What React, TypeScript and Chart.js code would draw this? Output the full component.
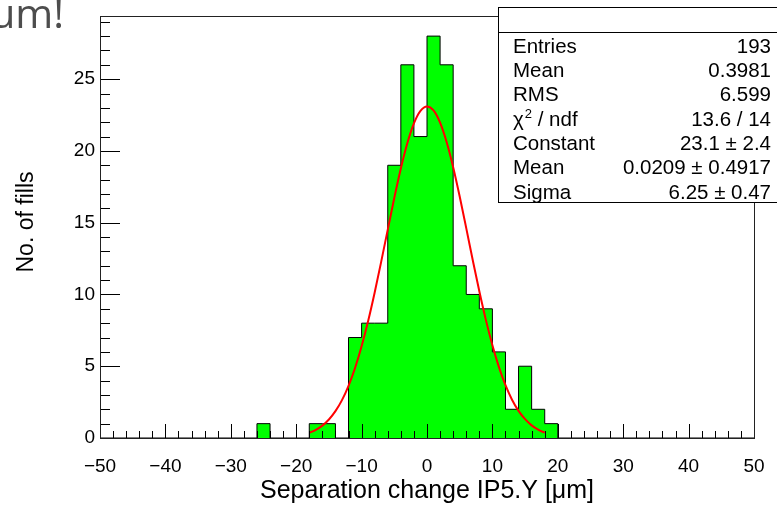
import React, { useEffect, useRef } from 'react';
import { Chart, registerables } from 'chart.js';

Chart.register(...registerables);

// Histogram: lower bin edges (2 µm bins) and counts
const binLowEdges = [
  -50, -48, -46, -44, -42, -40, -38, -36, -34, -32,
  -30, -28, -26, -24, -22, -20, -18, -16, -14, -12,
  -10, -8, -6, -4, -2, 0, 2, 4, 6, 8,
  10, 12, 14, 16, 18, 20, 22, 24, 26, 28,
  30, 32, 34, 36, 38, 40, 42, 44, 46, 48,
];
const binCounts = [
  0, 0, 0, 0, 0, 0, 0, 0, 0, 0,
  0, 0, 1, 0, 0, 0, 1, 1, 0, 7,
  8, 8, 19, 26, 21, 28, 26, 12, 10, 9,
  6, 2, 5, 2, 1, 0, 0, 0, 0, 0,
  0, 0, 0, 0, 0, 0, 0, 0, 0, 0,
];
const histUpperEdge = 50;

// Gaussian fit curve
const fitX = [
  -18, -17, -16, -15, -14, -13, -12, -11, -10, -9, -8, -7, -6, -5, -4, -3, -2, -1, 0,
  1, 2, 3, 4, 5, 6, 7, 8, 9, 10, 11, 12, 13, 14, 15, 16, 17, 18,
];
const fitY = [
  0.36, 0.57, 0.86, 1.29, 1.87, 2.64, 3.64, 4.88, 6.39, 8.15, 10.14, 12.29, 14.52, 16.73, 18.78, 20.55, 21.92, 22.79, 23.1,
  22.82, 21.97, 20.62, 18.86, 16.82, 14.62, 12.38, 10.22, 8.23, 6.46, 4.94, 3.68, 2.67, 1.89, 1.31, 0.88, 0.58, 0.37,
];

// Axes
const xMin = -50;
const xMax = 50;
const xMajorStep = 10;
const xMinorStep = 2;
const yMin = 0;
const yMax = 29.4;
const yMajorStep = 5;
const yMinorStep = 1;

const xTitle = 'Separation change IP5.Y [\u03bcm]';
const yTitle = 'No. of fills';

// Statistics box
const statLabels = ['Entries', 'Mean', 'RMS', 'CHI2', 'Constant', 'Mean', 'Sigma'];
const statValues = ['193', '0.3981', '6.599', '13.6 / 14', '23.1 \u00b1 2.4', '0.0209 \u00b1 0.4917', '6.25 \u00b1 0.47'];

const FONT = '"Liberation Sans", Arial, Helvetica, sans-serif';
const STAT_FONT = '20.5px ' + FONT;

const rootPlugin = {
  id: 'rootStyle',
  afterDatasetsDraw(chart: any) {
    const { ctx, chartArea: a, scales } = chart;
    const x = scales.x;
    const y = scales.y;
    ctx.save();
    ctx.strokeStyle = '#000';
    ctx.lineWidth = 1;
    ctx.beginPath();
    for (let v = xMin; v <= xMax + 1e-9; v += xMinorStep) {
      const px = Math.round(x.getPixelForValue(v)) + 0.5;
      const len = Math.abs(v % xMajorStep) < 1e-9 ? 14 : 7;
      ctx.moveTo(px, a.bottom);
      ctx.lineTo(px, a.bottom - len);
    }
    for (let v = yMin; v <= yMax; v += yMinorStep) {
      const py = Math.round(y.getPixelForValue(v)) + 0.5;
      const len = v % yMajorStep === 0 ? 20 : 10;
      ctx.moveTo(a.left, py);
      ctx.lineTo(a.left + len, py);
    }
    ctx.stroke();
    ctx.strokeStyle = '#222';
    ctx.strokeRect(Math.round(a.left) + 0.5, Math.round(a.top) + 0.5, Math.round(a.right - a.left), Math.round(a.bottom - a.top));
    ctx.restore();
  },
  afterDraw(chart: any) {
    const { ctx, chartArea: a, width } = chart;
    ctx.save();
    // axis titles
    ctx.fillStyle = '#000';
    ctx.font = '25px ' + FONT;
    ctx.textAlign = 'center';
    ctx.textBaseline = 'alphabetic';
    ctx.fillText(xTitle, (a.left + a.right) / 2, 498);
    ctx.save();
    ctx.translate(33, 222);
    ctx.rotate(-Math.PI / 2);
    ctx.font = '23px ' + FONT;
    ctx.fillText(yTitle, 0, 0);
    ctx.restore();

    // stats box
    const bx = 498.5;
    const by = 7.5;
    const bw = width - bx + 5;
    const bh = 195;
    ctx.fillStyle = '#fff';
    ctx.fillRect(bx, by, bw, bh);
    ctx.strokeStyle = '#000';
    ctx.lineWidth = 1;
    ctx.strokeRect(bx, by, bw, bh);
    ctx.beginPath();
    ctx.moveTo(bx, 32.5);
    ctx.lineTo(bx + bw, 32.5);
    ctx.stroke();
    ctx.fillStyle = '#000';
    ctx.textBaseline = 'alphabetic';
    const left = 513;
    const right = 771;
    for (let i = 0; i < statLabels.length; i++) {
      const base = 52.5 + i * 24.35;
      ctx.textAlign = 'left';
      if (statLabels[i] === 'CHI2') {
        ctx.font = STAT_FONT;
        ctx.fillText('\u03c7', left, base);
        const w1 = ctx.measureText('\u03c7').width;
        ctx.font = '13px ' + FONT;
        ctx.fillText('2', left + w1 + 1, base - 8);
        const w2 = ctx.measureText('2').width;
        ctx.font = STAT_FONT;
        ctx.fillText(' / ndf', left + w1 + 1 + w2, base);
      } else {
        ctx.font = STAT_FONT;
        ctx.fillText(statLabels[i], left, base);
      }
      ctx.textAlign = 'right';
      ctx.font = STAT_FONT;
      ctx.fillText(statValues[i], right, base);
    }
    ctx.restore();
  },
};

export default function App() {
  const ref = useRef<HTMLCanvasElement | null>(null);
  useEffect(() => {
    if (!ref.current) return;
    Chart.defaults.font.family = FONT;
    const histPoints = binLowEdges.map((e, i) => ({ x: e, y: binCounts[i] }));
    histPoints.push({ x: histUpperEdge, y: binCounts[binCounts.length - 1] });
    const fitPoints = fitX.map((v, i) => ({ x: v, y: fitY[i] }));
    const chart = new Chart(ref.current, {
      type: 'line',
      data: {
        datasets: [
          {
            label: 'fit',
            data: fitPoints,
            borderColor: '#ff0000',
            borderWidth: 2,
            pointRadius: 0,
            fill: false,
            cubicInterpolationMode: 'monotone',
          },
          {
            label: 'hist',
            data: histPoints,
            borderColor: '#000',
            borderWidth: 1,
            backgroundColor: '#00ff00',
            pointRadius: 0,
            stepped: 'before',
            fill: 'origin',
          },
        ],
      },
      options: {
        animation: false,
        responsive: false,
        devicePixelRatio: 1,
        layout: { padding: { left: 0, right: 23, top: 16, bottom: 0 } },
        plugins: { legend: { display: false }, tooltip: { enabled: false } },
        scales: {
          x: {
            type: 'linear',
            min: xMin,
            max: xMax,
            grid: { display: false, drawTicks: false },
            border: { display: false },
            afterFit: (s: any) => {
              s.height = 67;
              s.paddingLeft = 0;
              s.paddingRight = 0;
            },
            ticks: {
              stepSize: xMajorStep,
              includeBounds: false,
              padding: 17,
              color: '#000',
              font: { size: 19, family: FONT },
              maxRotation: 0,
              callback: (v: any) => (Number(v) < 0 ? '\u2212' + Math.abs(Number(v)) : String(v)),
            },
          },
          y: {
            type: 'linear',
            min: yMin,
            max: yMax,
            grid: { display: false, drawTicks: false },
            border: { display: false },
            afterFit: (s: any) => {
              s.width = 100;
              s.paddingTop = 0;
              s.paddingBottom = 0;
            },
            ticks: {
              stepSize: yMajorStep,
              includeBounds: false,
              padding: 5,
              color: '#000',
              font: { size: 19, family: FONT },
              callback: (v: any) => (Number(v) % yMajorStep === 0 ? String(v) : ''),
            },
          },
        },
      },
      plugins: [rootPlugin],
    } as any);
    return () => chart.destroy();
  }, []);

  return (
    <div style={{ position: 'fixed', left: 0, top: 0, width: 777, height: 505, background: '#fff', overflow: 'hidden' }}>
      <canvas ref={ref} width={777} height={505} style={{ display: 'block', width: 777, height: 505 }} />
      <div
        style={{
          position: 'absolute',
          left: -10,
          top: -8.5,
          fontFamily: '"Open Sans", sans-serif',
          fontSize: 41,
          lineHeight: '40px',
          color: '#4d4d4d',
          whiteSpace: 'nowrap',
        }}
      >
        {'\u03bcm!'}
      </div>
    </div>
  );
}
